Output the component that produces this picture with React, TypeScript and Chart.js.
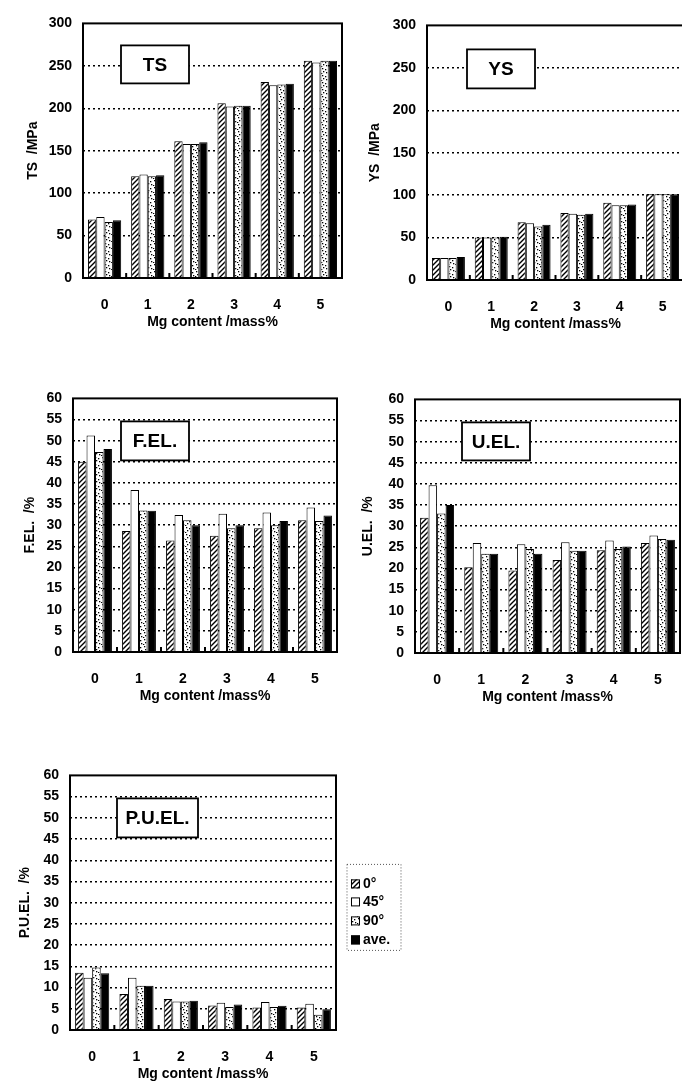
import { useEffect, useRef } from "react";
import { Chart, registerables } from "chart.js";

Chart.register(...registerables);

// Mg content of the alloys (mass%)
const mgContent = ["0", "1", "2", "3", "4", "5"];
// Tensile direction relative to rolling direction
const directionLabels = ["0°", "45°", "90°", "ave."];

// Tensile strength /MPa
const ts0 = [69, 120, 161, 206, 231, 256];
const ts45 = [72, 122, 158, 202, 227, 254];
const ts90 = [66, 120, 158, 203, 228, 256];
const tsAve = [68, 121, 160, 203, 229, 256];

// Yield strength /MPa
const ys0 = [26, 50, 68, 79, 91, 101];
const ys45 = [26, 50, 67, 78, 88, 101];
const ys90 = [26, 50, 63, 77, 88, 101];
const ysAve = [27, 51, 65, 78, 89, 101];

// Fracture elongation /%
const fel0 = [45, 28.6, 26.4, 27.5, 29.3, 31.2];
const fel45 = [51.2, 38.3, 32.4, 32.7, 33, 34.2];
const fel90 = [47.3, 33.5, 31.2, 29.3, 30, 31];
const felAve = [48, 33.4, 30, 30, 31, 32.3];

// Uniform elongation /%
const uel0 = [32, 20.3, 19.5, 22, 24.3, 26];
const uel45 = [39.7, 26, 25.7, 26.2, 26.6, 27.8];
const uel90 = [33, 23.5, 24.6, 24.2, 24.6, 27];
const uelAve = [35, 23.5, 23.5, 24.2, 25.2, 26.8];

// Post-uniform elongation /%
const puel0 = [13.5, 8.5, 7.3, 5.8, 5.3, 5.3];
const puel45 = [12.3, 12.3, 6.7, 6.4, 6.6, 6.2];
const puel90 = [14.7, 10.4, 6.7, 5.4, 5.4, 3.6];
const puelAve = [13.4, 10.4, 6.9, 6.0, 5.7, 4.9];

const xTitle = "Mg content /mass%";

const FONT = '"Liberation Sans", Arial, sans-serif';
const AXIS_W = 70;
const PAD_TOP = 10;
const X_AXIS_H = 56;
const TITLE_SIZE = 14;
const TITLE_HALF = (TITLE_SIZE * 1.2) / 2;

type Rect = { l: number; t: number; r: number; b: number };
type TagBox = { dx: number; dy: number; w: number; h: number };

type PanelProps = {
  series: number[][];
  yMax: number;
  yStep: number;
  yTitle: string;
  tag: string;
  plot: Rect;
  titleGap: number;
  tagBox: TagBox;
  padRight?: number;
  legend?: boolean;
};

function hatchPattern(ctx: CanvasRenderingContext2D) {
  const s = 5;
  const c = document.createElement("canvas");
  c.width = s;
  c.height = s;
  const g = c.getContext("2d")!;
  g.fillStyle = "#fff";
  g.fillRect(0, 0, s, s);
  g.strokeStyle = "#000";
  g.lineWidth = 1.4;
  g.beginPath();
  g.moveTo(0, s);
  g.lineTo(s, 0);
  g.moveTo(-1, 1);
  g.lineTo(1, -1);
  g.moveTo(s - 1, s + 1);
  g.lineTo(s + 1, s - 1);
  g.stroke();
  return ctx.createPattern(c, "repeat")!;
}

function dotPattern(ctx: CanvasRenderingContext2D) {
  const s = 7;
  const c = document.createElement("canvas");
  c.width = s;
  c.height = s;
  const g = c.getContext("2d")!;
  g.fillStyle = "#fff";
  g.fillRect(0, 0, s, s);
  g.fillStyle = "#000";
  const dots = [
    [1, 1],
    [4, 2],
    [2, 4],
    [5, 5],
    [0, 6],
  ];
  for (const [x, y] of dots) g.fillRect(x, y, 1.3, 1.3);
  return ctx.createPattern(c, "repeat")!;
}

function Panel(p: PanelProps) {
  const ref = useRef<HTMLCanvasElement>(null);
  const padRight = p.padRight ?? 6;
  const width = AXIS_W + (p.plot.r - p.plot.l) + padRight;
  const height = PAD_TOP + (p.plot.b - p.plot.t) + X_AXIS_H;

  useEffect(() => {
    const canvas = ref.current!;
    const ctx = canvas.getContext("2d")!;
    const fills: (string | CanvasPattern)[] = [
      hatchPattern(ctx),
      "#ffffff",
      dotPattern(ctx),
      "#000000",
    ];

    const decorations = {
      id: "decorations",
      afterDatasetsDraw(chart: Chart) {
        const { ctx: c, chartArea: a } = chart;
        const x = chart.scales.x;
        c.save();
        // small inward ticks between Mg content groups
        c.fillStyle = "#000";
        for (let i = 1; i < mgContent.length; i++) {
          const px = (x.getPixelForValue(i - 1) + x.getPixelForValue(i)) / 2;
          c.fillRect(px - 1, a.bottom - 5, 2, 5);
        }
        // property tag box
        const bx = a.left + p.tagBox.dx;
        const by = a.top + p.tagBox.dy;
        c.fillStyle = "#fff";
        c.fillRect(bx, by, p.tagBox.w, p.tagBox.h);
        c.strokeStyle = "#000";
        c.lineWidth = 1.8;
        c.strokeRect(bx, by, p.tagBox.w, p.tagBox.h);
        c.fillStyle = "#000";
        c.font = `bold 19px ${FONT}`;
        c.textAlign = "center";
        c.textBaseline = "middle";
        c.fillText(p.tag, bx + p.tagBox.w / 2, by + p.tagBox.h / 2 + 1);
        // plot frame
        c.lineWidth = 2;
        c.strokeRect(a.left, a.top, a.right - a.left, a.bottom - a.top);

        if (p.legend) {
          const lx = a.right + 11;
          const ly = a.top + 89;
          const lw = 54;
          const lh = 86;
          c.setLineDash([1, 2]);
          c.lineWidth = 1;
          c.strokeStyle = "#555";
          c.strokeRect(lx, ly, lw, lh);
          c.setLineDash([]);
          const rows = [19, 37, 56, 75];
          c.font = `bold 14px ${FONT}`;
          c.textAlign = "left";
          c.textBaseline = "middle";
          directionLabels.forEach((label, i) => {
            const cy = ly + rows[i];
            c.fillStyle = fills[i] as any;
            c.fillRect(lx + 4, cy - 4, 9, 9);
            c.strokeStyle = "#000";
            c.lineWidth = 1;
            c.strokeRect(lx + 4.5, cy - 3.5, 8, 8);
            c.fillStyle = "#000";
            c.fillText(label, lx + 16, cy + 1);
          });
        }
        c.restore();
      },
    };

    const chart = new Chart(canvas, {
      type: "bar",
      data: {
        labels: mgContent,
        datasets: p.series.map((values, i) => ({
          label: directionLabels[i],
          data: values,
          backgroundColor: fills[i] as any,
          borderColor: "#000",
          borderWidth: 1,
          categoryPercentage: 0.77,
          barPercentage: 1,
        })),
      },
      options: {
        animation: false,
        responsive: false,
        devicePixelRatio: 1,
        layout: { padding: { top: PAD_TOP, right: padRight, left: 0, bottom: 0 } },
        plugins: {
          legend: { display: false },
          tooltip: { enabled: false },
        },
        scales: {
          x: {
            afterFit: (s: any) => {
              s.height = X_AXIS_H;
            },
            grid: { display: false },
            border: { display: false },
            ticks: {
              color: "#000",
              padding: 11,
              font: { family: FONT, size: 14, weight: "bold" },
            },
            title: {
              display: true,
              text: xTitle,
              color: "#000",
              padding: { top: 0, bottom: X_AXIS_H - 44 - TITLE_HALF },
              font: { family: FONT, size: TITLE_SIZE, weight: "bold" },
            },
          },
          y: {
            min: 0,
            max: p.yMax,
            afterFit: (s: any) => {
              s.width = AXIS_W;
            },
            grid: {
              drawTicks: false,
              lineWidth: 1.5,
              color: (c: any) =>
                c.tick && (c.tick.value === 0 || c.tick.value === p.yMax)
                  ? "rgba(0,0,0,0)"
                  : "#000",
            },
            border: { display: false, dash: [2, 3] },
            ticks: {
              stepSize: p.yStep,
              color: "#000",
              padding: 11,
              font: { family: FONT, size: 14, weight: "bold" },
            },
            title: {
              display: true,
              text: p.yTitle,
              color: "#000",
              padding: { top: AXIS_W - p.titleGap - TITLE_HALF, bottom: 0 },
              font: { family: FONT, size: TITLE_SIZE, weight: "bold" },
            },
          },
        },
      },
      plugins: [decorations],
    });
    return () => chart.destroy();
  }, []);

  return (
    <canvas
      ref={ref}
      width={width}
      height={height}
      style={{
        position: "absolute",
        left: p.plot.l - AXIS_W,
        top: p.plot.t - PAD_TOP,
        width,
        height,
      }}
    />
  );
}

export default function App() {
  return (
    <div
      style={{
        position: "fixed",
        left: 0,
        top: 0,
        width: 682,
        height: 1087,
        overflow: "hidden",
        background: "#fff",
      }}
    >
      <Panel
        series={[ts0, ts45, ts90, tsAve]}
        yMax={300}
        yStep={50}
        yTitle="TS  /MPa"
        tag="TS"
        plot={{ l: 83, t: 14, r: 342, b: 278 }}
        titleGap={50}
        tagBox={{ dx: 38, dy: 22, w: 68, h: 38 }}
      />
      <Panel
        series={[ys0, ys45, ys90, ysAve]}
        yMax={300}
        yStep={50}
        yTitle="YS  /MPa"
        tag="YS"
        plot={{ l: 427, t: 16, r: 684, b: 280 }}
        titleGap={52}
        tagBox={{ dx: 40, dy: 24, w: 68, h: 39 }}
      />
      <Panel
        series={[fel0, fel45, fel90, felAve]}
        yMax={60}
        yStep={5}
        yTitle="F.EL.  /%"
        tag="F.EL."
        plot={{ l: 73, t: 389, r: 337, b: 652 }}
        titleGap={43}
        tagBox={{ dx: 48, dy: 23, w: 68, h: 39 }}
      />
      <Panel
        series={[uel0, uel45, uel90, uelAve]}
        yMax={60}
        yStep={5}
        yTitle="U.EL.  /%"
        tag="U.EL."
        plot={{ l: 415, t: 390, r: 680, b: 653 }}
        titleGap={47}
        tagBox={{ dx: 47, dy: 23, w: 68, h: 38 }}
      />
      <Panel
        series={[puel0, puel45, puel90, puelAve]}
        yMax={60}
        yStep={5}
        yTitle="P.U.EL.  /%"
        tag="P.U.EL."
        plot={{ l: 70, t: 766, r: 336, b: 1030 }}
        titleGap={45}
        tagBox={{ dx: 47, dy: 23, w: 81, h: 39 }}
        padRight={70}
        legend
      />
    </div>
  );
}
